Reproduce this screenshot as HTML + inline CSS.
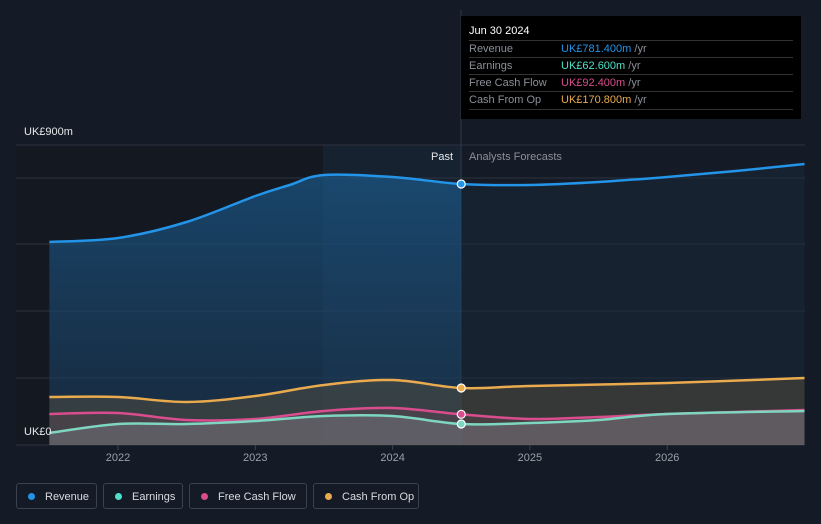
<!DOCTYPE html>
<html><head><meta charset="utf-8"><style>
body{margin:0;background:#151b26;width:821px;height:524px;overflow:hidden;font-family:"Liberation Sans",sans-serif}
svg{position:absolute;left:0;top:0}
.tip{position:absolute;left:461px;top:16px;width:340px;height:103px;background:#000;color:#fff;font-size:11px}
.tip .h{position:absolute;left:8px;top:9px;font-size:11px}
.row{position:absolute;left:8px;width:324px;height:17px;border-top:1px solid #333;line-height:17px}
.row span.l{color:#8a8f98;position:absolute;left:0}
.row span.v{position:absolute;left:92px}
.row span.u{color:#8a8f98}
.leg{position:absolute;top:483px;height:26px;border:1px solid #3a4150;border-radius:3px;color:#d8dbe0;font-size:11px;line-height:26px;box-sizing:border-box}
.leg i{display:inline-block;width:7px;height:7px;border-radius:50%;margin:0 10px 0 11px}
</style></head><body>
<svg id="c" width="821" height="524"></svg>
<div class="tip">
<div class="h">Jun 30 2024</div>
<div class="row" style="top:24px"><span class="l">Revenue</span><span class="v"><b style="font-weight:normal;color:#2394e8">UK£781.400m</b> <span class="u">/yr</span></span></div>
<div class="row" style="top:41px"><span class="l">Earnings</span><span class="v"><b style="font-weight:normal;color:#4fe0c8">UK£62.600m</b> <span class="u">/yr</span></span></div>
<div class="row" style="top:58px"><span class="l">Free Cash Flow</span><span class="v"><b style="font-weight:normal;color:#d94d8e">UK£92.400m</b> <span class="u">/yr</span></span></div>
<div class="row" style="top:75px;border-bottom:1px solid #333"><span class="l">Cash From Op</span><span class="v"><b style="font-weight:normal;color:#eaaa4e">UK£170.800m</b> <span class="u">/yr</span></span></div>
</div>
<div class="leg" style="left:16px;width:81px"><i style="background:#2394e8"></i>Revenue</div>
<div class="leg" style="left:103px;width:80px"><i style="background:#4fe0c8"></i>Earnings</div>
<div class="leg" style="left:189px;width:118px"><i style="background:#d94d8e"></i>Free Cash Flow</div>
<div class="leg" style="left:313px;width:106px"><i style="background:#eaaa4e"></i>Cash From Op</div>
<script>
const revT=[2021.5,2022,2022.5,2023,2023.25,2023.5,2024,2024.5,2025,2025.5,2026,2026.5,2027];
const revV=[609,621,669,747,780,810,804,783,780,789,804,822,843];
const cfoT=[2021.5,2022,2022.5,2023,2023.5,2024,2024.5,2025,2026,2027];
const cfoV=[144,144,129,147,180,195,171,177,186,201];
const fcfT=[2021.5,2022,2022.5,2023,2023.5,2024,2024.5,2025,2025.5,2026,2027];
const fcfV=[93,96,75,78,102,111,92,78,84,93,105];
const earT=[2021.5,2022,2022.5,2023,2023.5,2024,2024.5,2025,2025.5,2026,2027];
const earV=[36,63,63,72,87,87,63,66,75,93,102];
const xTicks=[2022,2023,2024,2025,2026];
const NOW=2024.5;
const X=t=>118+(t-2022)*137.3, Y=v=>445-v/3;
const svg=document.getElementById('c'),NS='http://www.w3.org/2000/svg';
function mk(tag,a,name){const e=document.createElementNS(NS,tag);for(const k in a)e.setAttribute(k,a[k]);


svg.appendChild(e);return e;}
svg.innerHTML='<defs><linearGradient id="g" x1="0" y1="0" x2="0" y2="1"><stop offset="0" stop-color="#1a5a8c" stop-opacity=".7"/><stop offset="1" stop-color="#1a3550" stop-opacity=".6"/></linearGradient><clipPath id="past"><rect x="0" y="0" width="'+X(NOW)+'" height="524"/></clipPath><clipPath id="fut"><rect x="'+X(NOW)+'" y="0" width="400" height="524"/></clipPath></defs>';
mk('rect',{x:16,y:145,width:307,height:300,fill:'#131821'},'past-background');
mk('rect',{x:323,y:145,width:138,height:300,fill:'#1a2a3a',opacity:.5},'recent-highlight');
[145,178,244,311,378].forEach((y,i)=>mk('line',{x1:16,x2:805,y1:y,y2:y,stroke:'#2c3340','stroke-width':1},'gridline-'+i));
mk('line',{x1:16,x2:805,y1:445,y2:445,stroke:'#2c3340'},'x-axis');
mk('line',{x1:461,x2:461,y1:10,y2:445,stroke:'#2c3a4a'},'now-line');
function path(T,V){const p=T.map((t,i)=>[X(t),Y(V[i])]);let d='M'+p[0][0]+','+p[0][1];
for(let i=0;i<p.length-1;i++){const a=p[i-1]||p[i],b=p[i],c=p[i+1],e=p[i+2]||c;
d+=` C${b[0]+(c[0]-a[0])/6},${b[1]+(c[1]-a[1])/6} ${c[0]-(e[0]-b[0])/6},${c[1]-(e[1]-b[1])/6} ${c[0]},${c[1]}`;}return d;}
function area(T,V){return path(T,V)+` L${X(T[T.length-1])},445 L${X(T[0])},445 Z`;}
const S=[['revenue',revT,revV,'#2394e8'],['cash-from-op',cfoT,cfoV,'#eaaa4e'],['free-cash-flow',fcfT,fcfV,'#d94d8e'],['earnings',earT,earV,'#7ed6c0']];
mk('path',{d:area(revT,revV),fill:'url(#g)','clip-path':'url(#past)'},'revenue-area-past');
mk('path',{d:area(revT,revV),fill:'#1a2a3a',opacity:.5,'clip-path':'url(#fut)'},'revenue-area-forecast');
mk('path',{d:area(cfoT,cfoV),fill:'#5a5440',opacity:.45},'cfo-area');
mk('path',{d:area(fcfT,fcfV),fill:'#6a4a5a',opacity:.35},'fcf-area');
mk('path',{d:area(earT,earV),fill:'#8a8f98',opacity:.35},'earnings-area');
S.forEach(([n,T,V,c])=>{mk('path',{d:path(T,V),fill:'none',stroke:c,'stroke-width':2.5},n+'-line');
const i=T.indexOf(NOW);mk('circle',{cx:X(NOW),cy:Y(V[i]),r:4,fill:c,stroke:'#fff','stroke-width':1.2},n+'-now-point');});
function txt(x,y,s,fill,anchor,name){const e=mk('text',{x,y,fill,'font-size':11,'text-anchor':anchor||'start','font-family':'Liberation Sans, sans-serif'},name);e.textContent=s;}
txt(24,135,'UK£900m','#e6e8eb','start','y-label-max');
txt(24,435,'UK£0','#e6e8eb','start','y-label-zero');
txt(453,160,'Past','#e6e8eb','end','past-label');
txt(469,160,'Analysts Forecasts','#8a8f98','start','forecast-label');
xTicks.forEach(t=>{mk('line',{x1:X(t),x2:X(t),y1:445,y2:450,stroke:'#3a4150'},'x-tick-'+t);txt(X(t),461,String(t),'#9aa0a8','middle','x-tick-label-'+t);});
</script>
</body></html>
